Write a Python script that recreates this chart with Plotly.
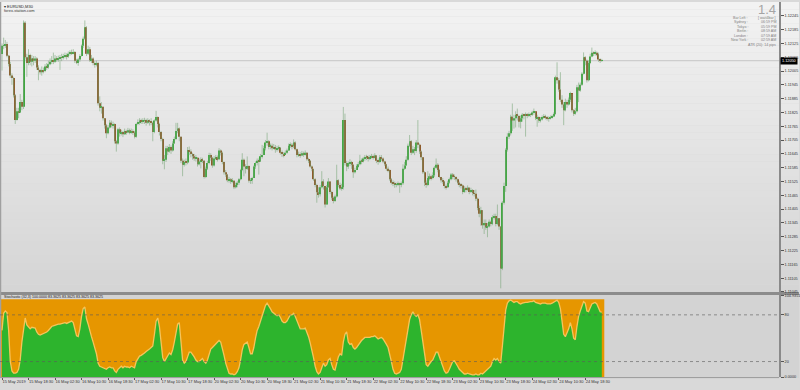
import plotly.graph_objects as go

# ---------------- data ----------------
tick_bars = [0, 16, 32, 48, 64, 80, 96, 112, 128, 144, 160, 176, 192, 208, 224, 240, 256, 272, 288, 304, 320, 336, 352]
time_labels = ["15 May 2019", "15 May 18:30", "16 May 02:30", "16 May 10:30", "16 May 18:30", "17 May 02:30",
               "17 May 10:30", "17 May 18:30", "20 May 02:30", "20 May 10:30", "20 May 18:30", "21 May 02:30",
               "21 May 10:30", "21 May 18:30", "22 May 02:30", "22 May 10:30", "22 May 18:30", "23 May 02:30",
               "23 May 10:30", "23 May 18:30", "24 May 02:30", "24 May 10:30", "24 May 18:30"]
price_ticks = [1.11045, 1.11105, 1.11165, 1.11225, 1.11285, 1.11345, 1.11405, 1.11465, 1.11525, 1.11585, 1.11645,
               1.11705, 1.11765, 1.11825, 1.11885, 1.11945, 1.12005, 1.12065, 1.12125, 1.12185, 1.12245]
price_range = [1.11045, 1.12305]
stoch_ticks = [0, 20, 80, 104.9351]
stoch_tick_text = ["0.0000", "20", "80", "104.9351"]
stoch_range = [0, 104.9351]
stoch_levels = [20, 80]
stoch_max = 100

open_ = [
1.12079, 1.12115, 1.12118, 1.12122, 1.12071, 1.12036, 1.11986, 1.11975, 1.11900, 1.11792,
1.11830, 1.11825, 1.11870, 1.11850, 1.12215, 1.12065, 1.12040, 1.12075, 1.12045, 1.12060,
1.12050, 1.12060, 1.12020, 1.12010, 1.12000, 1.12010, 1.12005, 1.12025, 1.12020, 1.12035,
1.12045, 1.12050, 1.12045, 1.12060, 1.12055, 1.12060, 1.12065, 1.12062, 1.12068, 1.12075,
1.12068, 1.12080, 1.12085, 1.12082, 1.12088, 1.12050, 1.12040, 1.12055, 1.12070, 1.12115,
1.12145, 1.12195, 1.12080, 1.12100, 1.12052, 1.12060, 1.12040, 1.12035, 1.12040, 1.11865,
1.11845, 1.11850, 1.11800, 1.11770, 1.11735, 1.11760, 1.11780, 1.11770, 1.11775, 1.11700,
1.11690, 1.11752, 1.11735, 1.11740, 1.11730, 1.11745, 1.11738, 1.11748, 1.11740, 1.11745,
1.11738, 1.11720, 1.11775, 1.11782, 1.11790, 1.11785, 1.11788, 1.11792, 1.11780, 1.11790,
1.11785, 1.11780, 1.11740, 1.11790, 1.11805, 1.11775, 1.11740, 1.11710, 1.11615, 1.11620,
1.11670, 1.11655, 1.11675, 1.11660, 1.11690, 1.11710, 1.11745, 1.11755, 1.11720, 1.11615,
1.11598, 1.11610, 1.11608, 1.11662, 1.11655, 1.11645, 1.11635, 1.11625, 1.11628, 1.11600,
1.11612, 1.11620, 1.11615, 1.11545, 1.11580, 1.11605, 1.11640, 1.11628, 1.11595, 1.11625,
1.11630, 1.11622, 1.11660, 1.11650, 1.11610, 1.11565, 1.11555, 1.11530, 1.11535, 1.11525,
1.11528, 1.11500, 1.11510, 1.11520, 1.11535, 1.11575, 1.11620, 1.11590, 1.11580, 1.11592,
1.11528, 1.11530, 1.11540, 1.11590, 1.11605, 1.11615, 1.11612, 1.11635, 1.11640, 1.11670,
1.11695, 1.11700, 1.11675, 1.11680, 1.11670, 1.11675, 1.11665, 1.11668, 1.11672, 1.11650,
1.11645, 1.11640, 1.11650, 1.11660, 1.11680, 1.11685, 1.11678, 1.11695, 1.11665, 1.11640,
1.11645, 1.11638, 1.11648, 1.11642, 1.11650, 1.11622, 1.11615, 1.11590, 1.11580, 1.11535,
1.11510, 1.11478, 1.11470, 1.11500, 1.11525, 1.11505, 1.11425, 1.11500, 1.11525, 1.11480,
1.11455, 1.11440, 1.11460, 1.11530, 1.11510, 1.11495, 1.11500, 1.11792, 1.11605, 1.11590,
1.11605, 1.11610, 1.11598, 1.11565, 1.11575, 1.11592, 1.11600, 1.11615, 1.11612, 1.11625,
1.11632, 1.11628, 1.11625, 1.11630, 1.11635, 1.11630, 1.11638, 1.11615, 1.11610, 1.11630,
1.11625, 1.11612, 1.11600, 1.11580, 1.11575, 1.11535, 1.11520, 1.11515, 1.11510, 1.11512,
1.11518, 1.11510, 1.11518, 1.11580, 1.11595, 1.11620, 1.11680, 1.11700, 1.11650, 1.11665,
1.11658, 1.11695, 1.11685, 1.11655, 1.11630, 1.11565, 1.11520, 1.11510, 1.11540, 1.11548,
1.11540, 1.11552, 1.11585, 1.11598, 1.11575, 1.11545, 1.11530, 1.11525, 1.11505, 1.11500,
1.11520, 1.11535, 1.11555, 1.11548, 1.11545, 1.11535, 1.11520, 1.11510, 1.11508, 1.11480,
1.11495, 1.11490, 1.11498, 1.11480, 1.11488, 1.11475, 1.11472, 1.11450, 1.11410, 1.11385,
1.11400, 1.11335, 1.11345, 1.11325, 1.11330, 1.11350, 1.11340, 1.11370, 1.11375, 1.11340,
1.11365, 1.11330, 1.11147, 1.11433, 1.11505, 1.11663, 1.11720, 1.11735, 1.11806, 1.11790,
1.11800, 1.11815, 1.11810, 1.11785, 1.11800, 1.11815, 1.11810, 1.11815, 1.11812, 1.11818,
1.11815, 1.11825, 1.11830, 1.11800, 1.11805, 1.11790, 1.11795, 1.11805, 1.11810, 1.11802,
1.11800, 1.11798, 1.11805, 1.11808, 1.11818, 1.11978, 1.11965, 1.11925, 1.11880, 1.11860,
1.11835, 1.11870, 1.11860, 1.11880, 1.11910, 1.11835, 1.11820, 1.11830, 1.11935, 1.11920,
1.11945, 1.11993, 1.12065, 1.12050, 1.11965, 1.12040, 1.12068, 1.12085, 1.12080, 1.12085,
1.12078, 1.12055, 1.12050]

high = [
1.12125, 1.12150, 1.12140, 1.12132, 1.12075, 1.12045, 1.11995, 1.11980, 1.11905, 1.11845,
1.11845, 1.11905, 1.11880, 1.12225, 1.12222, 1.12080, 1.12100, 1.12080, 1.12075, 1.12070,
1.12070, 1.12065, 1.12030, 1.12015, 1.12025, 1.12020, 1.12035, 1.12040, 1.12050, 1.12060,
1.12070, 1.12085, 1.12075, 1.12070, 1.12072, 1.12075, 1.12080, 1.12080, 1.12085, 1.12082,
1.12090, 1.12095, 1.12098, 1.12100, 1.12092, 1.12058, 1.12062, 1.12078, 1.12120, 1.12155,
1.12225, 1.12200, 1.12115, 1.12110, 1.12075, 1.12065, 1.12048, 1.12050, 1.12045, 1.11895,
1.11870, 1.11850, 1.11800, 1.11775, 1.11770, 1.11792, 1.11790, 1.11785, 1.11778, 1.11705,
1.11758, 1.11760, 1.11750, 1.11745, 1.11755, 1.11750, 1.11758, 1.11755, 1.11755, 1.11752,
1.11745, 1.11780, 1.11795, 1.11800, 1.11798, 1.11800, 1.11802, 1.11798, 1.11800, 1.11795,
1.11800, 1.11785, 1.11795, 1.11832, 1.11808, 1.11780, 1.11745, 1.11715, 1.11640, 1.11680,
1.11680, 1.11688, 1.11682, 1.11700, 1.11720, 1.11780, 1.11780, 1.11760, 1.11720, 1.11625,
1.11620, 1.11625, 1.11675, 1.11677, 1.11665, 1.11650, 1.11645, 1.11640, 1.11630, 1.11625,
1.11630, 1.11628, 1.11618, 1.11590, 1.11615, 1.11650, 1.11648, 1.11632, 1.11635, 1.11640,
1.11638, 1.11670, 1.11665, 1.11655, 1.11612, 1.11575, 1.11558, 1.11545, 1.11540, 1.11540,
1.11530, 1.11520, 1.11528, 1.11540, 1.11580, 1.11648, 1.11625, 1.11600, 1.11634, 1.11595,
1.11540, 1.11545, 1.11595, 1.11612, 1.11625, 1.11625, 1.11645, 1.11684, 1.11680, 1.11705,
1.11737, 1.11705, 1.11690, 1.11690, 1.11688, 1.11684, 1.11680, 1.11682, 1.11675, 1.11660,
1.11652, 1.11660, 1.11668, 1.11690, 1.11695, 1.11692, 1.11708, 1.11700, 1.11668, 1.11655,
1.11652, 1.11658, 1.11655, 1.11660, 1.11652, 1.11628, 1.11618, 1.11595, 1.11580, 1.11540,
1.11515, 1.11500, 1.11510, 1.11570, 1.11535, 1.11505, 1.11510, 1.11540, 1.11525, 1.11485,
1.11460, 1.11468, 1.11598, 1.11535, 1.11520, 1.11515, 1.11849, 1.11820, 1.11615, 1.11612,
1.11622, 1.11615, 1.11600, 1.11585, 1.11600, 1.11610, 1.11641, 1.11625, 1.11632, 1.11640,
1.11641, 1.11638, 1.11640, 1.11645, 1.11642, 1.11648, 1.11640, 1.11625, 1.11640, 1.11640,
1.11630, 1.11615, 1.11602, 1.11590, 1.11578, 1.11540, 1.11530, 1.11525, 1.11520, 1.11525,
1.11520, 1.11525, 1.11600, 1.11610, 1.11635, 1.11690, 1.11727, 1.11705, 1.11680, 1.11675,
1.11705, 1.11792, 1.11690, 1.11660, 1.11630, 1.11570, 1.11530, 1.11570, 1.11560, 1.11555,
1.11565, 1.11592, 1.11625, 1.11605, 1.11580, 1.11545, 1.11540, 1.11528, 1.11512, 1.11528,
1.11542, 1.11562, 1.11562, 1.11556, 1.11548, 1.11538, 1.11525, 1.11518, 1.11512, 1.11505,
1.11502, 1.11508, 1.11500, 1.11498, 1.11492, 1.11488, 1.11490, 1.11455, 1.11420, 1.11415,
1.11400, 1.11360, 1.11360, 1.11345, 1.11360, 1.11355, 1.11378, 1.11385, 1.11385, 1.11425,
1.11365, 1.11330, 1.11440, 1.11520, 1.11670, 1.11735, 1.11745, 1.11815, 1.11864, 1.11815,
1.11830, 1.11842, 1.11815, 1.11812, 1.11822, 1.11820, 1.11825, 1.11822, 1.11825, 1.11822,
1.11832, 1.11842, 1.11830, 1.11815, 1.11808, 1.11805, 1.11812, 1.11818, 1.11815, 1.11810,
1.11808, 1.11812, 1.11815, 1.11825, 1.11985, 1.12043, 1.11975, 1.12000, 1.11900, 1.11870,
1.11885, 1.11880, 1.11890, 1.11915, 1.11905, 1.11840, 1.11845, 1.11945, 1.11955, 1.11955,
1.12000, 1.12086, 1.12070, 1.12055, 1.12050, 1.12080, 1.12107, 1.12090, 1.12095, 1.12090,
1.12085, 1.12060, 1.12058]

low = [
1.12007, 1.12100, 1.12105, 1.12065, 1.12025, 1.11975, 1.11945, 1.11890, 1.11775, 1.11790,
1.11800, 1.11825, 1.11835, 1.11840, 1.12055, 1.11980, 1.12030, 1.12030, 1.12025, 1.12030,
1.12040, 1.12010, 1.11965, 1.11990, 1.11985, 1.11995, 1.12000, 1.12010, 1.12015, 1.12030,
1.12035, 1.12035, 1.12040, 1.12045, 1.12045, 1.12010, 1.12048, 1.12055, 1.12060, 1.12055,
1.12062, 1.12072, 1.12075, 1.12078, 1.12040, 1.12035, 1.12028, 1.12045, 1.12068, 1.12105,
1.12140, 1.12070, 1.12075, 1.12045, 1.12040, 1.12030, 1.12020, 1.12025, 1.11855, 1.11830,
1.11820, 1.11790, 1.11755, 1.11713, 1.11730, 1.11755, 1.11760, 1.11755, 1.11690, 1.11655,
1.11685, 1.11720, 1.11725, 1.11718, 1.11728, 1.11728, 1.11735, 1.11730, 1.11732, 1.11728,
1.11712, 1.11715, 1.11770, 1.11772, 1.11775, 1.11775, 1.11775, 1.11768, 1.11775, 1.11768,
1.11770, 1.11700, 1.11735, 1.11785, 1.11760, 1.11725, 1.11700, 1.11600, 1.11578, 1.11610,
1.11640, 1.11650, 1.11645, 1.11655, 1.11690, 1.11705, 1.11735, 1.11700, 1.11605, 1.11548,
1.11590, 1.11595, 1.11600, 1.11640, 1.11630, 1.11620, 1.11615, 1.11612, 1.11590, 1.11595,
1.11582, 1.11605, 1.11538, 1.11540, 1.11575, 1.11600, 1.11615, 1.11585, 1.11590, 1.11618,
1.11612, 1.11618, 1.11638, 1.11600, 1.11555, 1.11545, 1.11522, 1.11520, 1.11515, 1.11518,
1.11492, 1.11495, 1.11500, 1.11510, 1.11530, 1.11570, 1.11548, 1.11560, 1.11575, 1.11520,
1.11515, 1.11515, 1.11540, 1.11580, 1.11595, 1.11555, 1.11610, 1.11625, 1.11640, 1.11660,
1.11680, 1.11665, 1.11665, 1.11660, 1.11665, 1.11650, 1.11655, 1.11660, 1.11642, 1.11632,
1.11630, 1.11640, 1.11645, 1.11658, 1.11672, 1.11665, 1.11670, 1.11660, 1.11630, 1.11632,
1.11628, 1.11635, 1.11632, 1.11638, 1.11615, 1.11605, 1.11585, 1.11570, 1.11528, 1.11500,
1.11433, 1.11455, 1.11460, 1.11495, 1.11490, 1.11412, 1.11425, 1.11498, 1.11470, 1.11445,
1.11430, 1.11436, 1.11455, 1.11500, 1.11488, 1.11485, 1.11490, 1.11595, 1.11570, 1.11580,
1.11592, 1.11580, 1.11541, 1.11560, 1.11575, 1.11585, 1.11595, 1.11600, 1.11608, 1.11615,
1.11618, 1.11612, 1.11618, 1.11625, 1.11620, 1.11625, 1.11605, 1.11598, 1.11605, 1.11615,
1.11605, 1.11592, 1.11572, 1.11565, 1.11528, 1.11512, 1.11505, 1.11498, 1.11500, 1.11505,
1.11476, 1.11500, 1.11510, 1.11575, 1.11595, 1.11615, 1.11675, 1.11640, 1.11645, 1.11640,
1.11650, 1.11670, 1.11645, 1.11618, 1.11558, 1.11505, 1.11498, 1.11505, 1.11530, 1.11530,
1.11535, 1.11545, 1.11580, 1.11565, 1.11540, 1.11520, 1.11515, 1.11495, 1.11490, 1.11498,
1.11515, 1.11530, 1.11535, 1.11532, 1.11525, 1.11512, 1.11500, 1.11495, 1.11470, 1.11475,
1.11478, 1.11485, 1.11470, 1.11475, 1.11465, 1.11460, 1.11440, 1.11400, 1.11370, 1.11333,
1.11320, 1.11297, 1.11315, 1.11283, 1.11325, 1.11330, 1.11335, 1.11360, 1.11330, 1.11335,
1.11315, 1.11061, 1.11140, 1.11425, 1.11480, 1.11655, 1.11710, 1.11725, 1.11745, 1.11755,
1.11760, 1.11790, 1.11760, 1.11756, 1.11785, 1.11795, 1.11720, 1.11800, 1.11805, 1.11805,
1.11810, 1.11815, 1.11792, 1.11763, 1.11780, 1.11782, 1.11790, 1.11798, 1.11795, 1.11790,
1.11785, 1.11795, 1.11798, 1.11805, 1.11815, 1.11950, 1.11915, 1.11870, 1.11845, 1.11770,
1.11830, 1.11845, 1.11855, 1.11870, 1.11825, 1.11810, 1.11815, 1.11825, 1.11870, 1.11915,
1.11940, 1.11990, 1.12030, 1.11955, 1.11960, 1.12035, 1.12065, 1.12070, 1.12072, 1.12070,
1.12045, 1.12040, 1.12045]

close = [
1.12115, 1.12118, 1.12122, 1.12071, 1.12036, 1.11986, 1.11975, 1.11900, 1.11792, 1.11830,
1.11825, 1.11870, 1.11850, 1.12215, 1.12065, 1.12040, 1.12075, 1.12045, 1.12060, 1.12050,
1.12060, 1.12020, 1.12010, 1.12000, 1.12010, 1.12005, 1.12025, 1.12020, 1.12035, 1.12045,
1.12050, 1.12045, 1.12060, 1.12055, 1.12060, 1.12065, 1.12062, 1.12068, 1.12075, 1.12068,
1.12080, 1.12085, 1.12082, 1.12088, 1.12050, 1.12040, 1.12055, 1.12070, 1.12115, 1.12145,
1.12195, 1.12080, 1.12100, 1.12052, 1.12060, 1.12040, 1.12035, 1.12040, 1.11865, 1.11845,
1.11850, 1.11800, 1.11770, 1.11735, 1.11760, 1.11780, 1.11770, 1.11775, 1.11700, 1.11690,
1.11752, 1.11735, 1.11740, 1.11730, 1.11745, 1.11738, 1.11748, 1.11740, 1.11745, 1.11738,
1.11720, 1.11775, 1.11782, 1.11790, 1.11785, 1.11788, 1.11792, 1.11780, 1.11790, 1.11785,
1.11780, 1.11740, 1.11790, 1.11805, 1.11775, 1.11740, 1.11710, 1.11615, 1.11620, 1.11670,
1.11655, 1.11675, 1.11660, 1.11690, 1.11710, 1.11745, 1.11755, 1.11720, 1.11615, 1.11598,
1.11610, 1.11608, 1.11662, 1.11655, 1.11645, 1.11635, 1.11625, 1.11628, 1.11600, 1.11612,
1.11620, 1.11615, 1.11545, 1.11580, 1.11605, 1.11640, 1.11628, 1.11595, 1.11625, 1.11630,
1.11622, 1.11660, 1.11650, 1.11610, 1.11565, 1.11555, 1.11530, 1.11535, 1.11525, 1.11528,
1.11500, 1.11510, 1.11520, 1.11535, 1.11575, 1.11620, 1.11590, 1.11580, 1.11592, 1.11528,
1.11530, 1.11540, 1.11590, 1.11605, 1.11615, 1.11612, 1.11635, 1.11640, 1.11670, 1.11695,
1.11700, 1.11675, 1.11680, 1.11670, 1.11675, 1.11665, 1.11668, 1.11672, 1.11650, 1.11645,
1.11640, 1.11650, 1.11660, 1.11680, 1.11685, 1.11678, 1.11695, 1.11665, 1.11640, 1.11645,
1.11638, 1.11648, 1.11642, 1.11650, 1.11622, 1.11615, 1.11590, 1.11580, 1.11535, 1.11510,
1.11478, 1.11470, 1.11500, 1.11525, 1.11505, 1.11425, 1.11500, 1.11525, 1.11480, 1.11455,
1.11440, 1.11460, 1.11530, 1.11510, 1.11495, 1.11500, 1.11792, 1.11605, 1.11590, 1.11605,
1.11610, 1.11598, 1.11565, 1.11575, 1.11592, 1.11600, 1.11615, 1.11612, 1.11625, 1.11632,
1.11628, 1.11625, 1.11630, 1.11635, 1.11630, 1.11638, 1.11615, 1.11610, 1.11630, 1.11625,
1.11612, 1.11600, 1.11580, 1.11575, 1.11535, 1.11520, 1.11515, 1.11510, 1.11512, 1.11518,
1.11510, 1.11518, 1.11580, 1.11595, 1.11620, 1.11680, 1.11700, 1.11650, 1.11665, 1.11658,
1.11695, 1.11685, 1.11655, 1.11630, 1.11565, 1.11520, 1.11510, 1.11540, 1.11548, 1.11540,
1.11552, 1.11585, 1.11598, 1.11575, 1.11545, 1.11530, 1.11525, 1.11505, 1.11500, 1.11520,
1.11535, 1.11555, 1.11548, 1.11545, 1.11535, 1.11520, 1.11510, 1.11508, 1.11480, 1.11495,
1.11490, 1.11498, 1.11480, 1.11488, 1.11475, 1.11472, 1.11450, 1.11410, 1.11385, 1.11400,
1.11335, 1.11345, 1.11325, 1.11330, 1.11350, 1.11340, 1.11370, 1.11375, 1.11340, 1.11365,
1.11330, 1.11147, 1.11433, 1.11505, 1.11663, 1.11720, 1.11735, 1.11806, 1.11790, 1.11800,
1.11815, 1.11810, 1.11785, 1.11800, 1.11815, 1.11810, 1.11815, 1.11812, 1.11818, 1.11815,
1.11825, 1.11830, 1.11800, 1.11805, 1.11790, 1.11795, 1.11805, 1.11810, 1.11802, 1.11800,
1.11798, 1.11805, 1.11808, 1.11818, 1.11978, 1.11965, 1.11925, 1.11880, 1.11860, 1.11835,
1.11870, 1.11860, 1.11880, 1.11910, 1.11835, 1.11820, 1.11830, 1.11935, 1.11920, 1.11945,
1.11993, 1.12065, 1.12050, 1.11965, 1.12040, 1.12068, 1.12085, 1.12080, 1.12085, 1.12078,
1.12055, 1.12050, 1.12050]

stoch_k = [
60, 82, 85, 83, 60, 20, 8, 5, 5, 6,
10, 22, 45, 65, 76, 67, 65, 62, 64, 63,
63, 58, 55, 54, 55, 55, 57, 58, 60, 63,
65, 66, 67, 68, 68, 68, 69, 69, 70, 69,
70, 71, 72, 70, 60, 53, 52, 62, 78, 88,
90, 75, 68, 58, 52, 45, 38, 30, 18, 14,
13, 12, 11, 10, 12, 13, 12, 12, 8, 6,
10, 12, 14, 12, 14, 13, 13, 12, 14, 13,
12, 20, 24, 27, 28, 29, 31, 33, 34, 36,
38, 40, 55, 72, 76, 65, 45, 25, 20, 24,
29, 31, 29, 35, 45, 58, 68, 70, 45, 22,
18, 20, 26, 32, 32, 28, 26, 22, 20, 20,
22, 24, 20, 18, 22, 30, 36, 38, 40, 42,
44, 47, 45, 38, 28, 18, 10, 5, 4, 4,
3, 4, 7, 12, 22, 35, 42, 44, 45, 38,
30, 30, 38, 50, 60, 65, 72, 80, 86, 92,
95, 92, 88, 84, 82, 80, 79, 80, 77, 72,
70, 70, 72, 76, 80, 80, 82, 78, 72, 66,
62, 62, 62, 63, 58, 52, 44, 36, 25, 14,
7, 4, 6, 12, 18, 14, 16, 22, 24, 16,
10, 9, 18, 26, 30, 28, 45, 55, 58, 45,
42, 43, 38, 36, 38, 41, 45, 47, 49, 51,
51, 51, 51, 52, 52, 53, 51, 49, 50, 51,
49, 46, 42, 38, 30, 20, 10, 5, 4, 5,
6, 10, 22, 36, 50, 62, 74, 80, 84, 80,
78, 80, 74, 60, 44, 28, 16, 14, 18, 20,
22, 26, 32, 32, 26, 18, 13, 8, 5, 6,
10, 16, 20, 21, 18, 14, 10, 8, 5, 4,
4, 5, 4, 3, 3, 3, 4, 3, 3, 5,
4, 6, 8, 9, 12, 14, 20, 24, 22, 24,
20, 18, 40, 66, 86, 95, 98, 99, 98, 96,
97, 97, 95, 94, 95, 96, 96, 96, 97, 97,
97, 98, 96, 95, 94, 94, 95, 95, 95, 94,
94, 94, 95, 96, 98, 99, 96, 88, 72, 55,
52, 56, 62, 70, 62, 50, 48, 65, 78, 85,
92, 97, 95, 85, 84, 88, 94, 95, 96, 94,
88, 84, 83.3625]

symbol_text = "EURUSD,M30"
site_text = "forex-station.com"
spread_text = "1.4"
info_labels = ["Bar Left :", "Sydney :", "Tokyo :", "Berlin :", "London :", "New York :"]
info_values = ["[ wait4bar ]", "06:59 PM", "05:59 PM", "08:59 AM", "07:59 AM", "02:59 AM"]
atr_text = "ATR (20): 14 pips"
stoch_title = "Stochastic (32,3) 100.0000 83.3625 83.3625 83.3625 83.3625"

# ---------------- layout helpers (pixels -> paper) ----------------
W, H = 800, 390
FONT = "Liberation Sans"


def pyp(p):
    return 1 - p / H


def pxp(p):
    return p / W


X_DOM = [0, pxp(780)]
X_RANGE = [-1.206, 468.96]
MAIN_TOP, MAIN_BOT = 0, 293
OSC_TOP, OSC_BOT = 296.5, 379

n = len(close)
idx = list(range(n))

fig = go.Figure()

# wicks
wx, wy = [], []
for i in idx:
    wx += [i, i, None]
    wy += [low[i], high[i], None]
fig.add_trace(go.Scatter(x=wx, y=wy, mode="lines", line=dict(color="rgba(125,168,125,0.6)", width=1),
                         hoverinfo="skip", xaxis="x", yaxis="y"))

# bodies
min_body = 0.000012
bases = [min(o, c) for o, c in zip(open_, close)]
heights = [max(abs(c - o), min_body) for o, c in zip(open_, close)]
colors = ["#3FA83F" if c >= o else "#8E5A2A" for o, c in zip(open_, close)]
fig.add_trace(go.Bar(x=idx, y=heights, base=bases, width=0.62, marker=dict(color=colors, line=dict(width=0)),
                     hoverinfo="skip", xaxis="x", yaxis="y"))

# stochastic: orange above the line up to 100, green below
fig.add_trace(go.Scatter(x=[X_RANGE[0], idx[-1] + 1.5], y=[stoch_max, stoch_max], mode="lines", fill="tozeroy",
                         fillcolor="#E69600", line=dict(width=0, color="#E69600"), hoverinfo="skip",
                         xaxis="x2", yaxis="y2"))
fig.add_trace(go.Scatter(x=idx, y=stoch_k, mode="lines", fill="tozeroy", fillcolor="#2DB42D",
                         line=dict(color="rgba(255,200,100,0.9)", width=1.3), hoverinfo="skip",
                         xaxis="x2", yaxis="y2"))

shapes = []
# main window gradient background
nb = 40
for k in range(nb):
    t = k / (nb - 1)
    g = round(242 - t * 29)
    y0 = MAIN_TOP + (MAIN_BOT - MAIN_TOP) * k / nb
    y1 = MAIN_TOP + (MAIN_BOT - MAIN_TOP) * (k + 1) / nb
    shapes.append(dict(type="rect", xref="paper", yref="paper", x0=0, x1=1, y0=pyp(y1), y1=pyp(y0),
                       fillcolor=f"rgb({g},{g},{g})", line=dict(width=0), layer="below"))
# separator between windows
shapes.append(dict(type="rect", xref="paper", yref="paper", x0=0, x1=1, y0=pyp(296), y1=pyp(293),
                   fillcolor="#8C8C8C", line=dict(width=0), layer="below"))
# oscillator window background
shapes.append(dict(type="rect", xref="paper", yref="paper", x0=0, x1=1, y0=pyp(380), y1=pyp(296),
                   fillcolor="#D3D3D3", line=dict(width=0), layer="below"))
# oscillator bottom border
shapes.append(dict(type="line", xref="paper", yref="paper", x0=0, x1=pxp(780), y0=pyp(379.5), y1=pyp(379.5),
                   line=dict(color="#9A9A9A", width=1), layer="above"))
# left border
shapes.append(dict(type="line", xref="paper", yref="paper", x0=pxp(0.5), x1=pxp(0.5), y0=pyp(380), y1=1,
                   line=dict(color="#A0A0A0", width=1.5), layer="above"))
# bid line
shapes.append(dict(type="line", xref="paper", yref="y", x0=0, x1=pxp(780), y0=close[-1], y1=close[-1],
                   line=dict(color="#C6C6C6", width=1), layer="below"))
# stochastic levels
for lv in stoch_levels:
    shapes.append(dict(type="line", xref="paper", yref="y2", x0=0, x1=pxp(780), y0=lv, y1=lv,
                       line=dict(color="rgba(90,90,90,0.6)", width=1, dash="dot"), layer="above"))

ann = []
# current price box
ann.append(dict(x=pxp(781), y=close[-1], xref="paper", yref="y", xanchor="left", yanchor="middle",
                text=f"{close[-1]:.5f}", showarrow=False, font=dict(family=FONT, size=3.8, color="white"),
                bgcolor="black", borderpad=1))
# top-left labels
ann.append(dict(x=pxp(2), y=pyp(4.5), xref="paper", yref="paper", xanchor="left", yanchor="middle",
                text="▾ " + symbol_text, showarrow=False, font=dict(family=FONT, size=4, color="#222")))
ann.append(dict(x=pxp(2), y=pyp(8.7), xref="paper", yref="paper", xanchor="left", yanchor="middle",
                text=site_text, showarrow=False, font=dict(family=FONT, size=4, color="#333")))
# info panel
ann.append(dict(x=pxp(779), y=pyp(8), xref="paper", yref="paper", xanchor="right", yanchor="middle",
                text=spread_text, showarrow=False, font=dict(family=FONT, size=13, color="#A4A4A4")))
for k, (lab, val) in enumerate(zip(info_labels, info_values)):
    yy = pyp(15.7 + 4.6 * k)
    ann.append(dict(x=pxp(751), y=yy, xref="paper", yref="paper", xanchor="right", yanchor="middle",
                    text=lab, showarrow=False, font=dict(family=FONT, size=3.6, color="#808080")))
    ann.append(dict(x=pxp(779), y=yy, xref="paper", yref="paper", xanchor="right", yanchor="middle",
                    text=val, showarrow=False, font=dict(family=FONT, size=3.6, color="#808080")))
ann.append(dict(x=pxp(779), y=pyp(15.7 + 4.6 * 6), xref="paper", yref="paper", xanchor="right", yanchor="middle",
                text=atr_text, showarrow=False, font=dict(family=FONT, size=3.6, color="#808080")))
# stochastic title
ann.append(dict(x=pxp(2), y=pyp(298), xref="paper", yref="paper", xanchor="left", yanchor="middle",
                text=stoch_title, showarrow=False, font=dict(family=FONT, size=3.6, color="#222")))

axis_common = dict(showgrid=False, zeroline=False, fixedrange=True)
fig.update_layout(
    width=W, height=H, margin=dict(l=0, r=0, t=0, b=0),
    paper_bgcolor="#D9D9D9", plot_bgcolor="rgba(0,0,0,0)", showlegend=False,
    shapes=shapes, annotations=ann,
    xaxis=dict(domain=X_DOM, range=X_RANGE, anchor="y", showticklabels=False, ticks="", **axis_common),
    yaxis=dict(domain=[pyp(MAIN_BOT), pyp(MAIN_TOP)], range=price_range, anchor="x", side="right",
               tickvals=price_ticks, tickformat=".5f", ticks="outside", ticklen=3, tickcolor="#555",
               showline=True, linecolor="#8A8A8A", linewidth=1.5,
               tickfont=dict(family=FONT, size=3.8, color="#333"), **axis_common),
    xaxis2=dict(domain=X_DOM, range=X_RANGE, anchor="y2", matches="x", tickvals=tick_bars, ticktext=time_labels,
                ticks="outside", ticklen=2, tickcolor="#555", ticklabelposition="outside right", tickangle=0,
                tickfont=dict(family=FONT, size=4.0, color="#333"), showline=False, **axis_common),
    yaxis2=dict(domain=[pyp(OSC_BOT), pyp(OSC_TOP)], range=stoch_range, anchor="x2", side="right",
                tickvals=stoch_ticks, ticktext=stoch_tick_text, ticks="outside", ticklen=3, tickcolor="#555",
                showline=True, linecolor="#8A8A8A", linewidth=1.5,
                tickfont=dict(family=FONT, size=3.8, color="#333"), **axis_common),
)

fig.write_html("out.html", config={"displayModeBar": False})
